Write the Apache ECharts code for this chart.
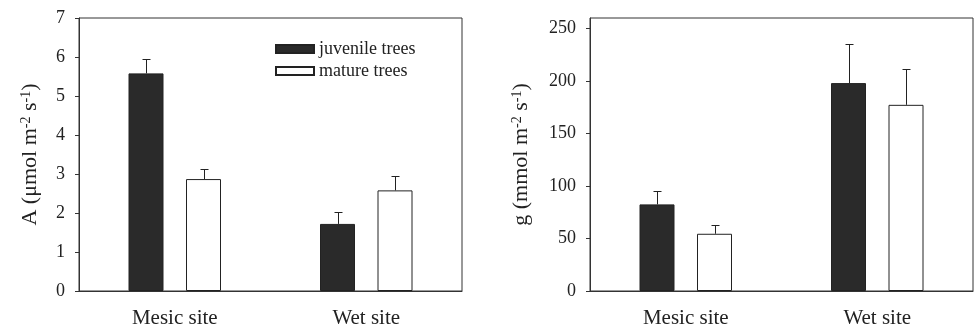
<!DOCTYPE html>
<html>
<head>
<meta charset="utf-8">
<script src="https://cdn.jsdelivr.net/npm/echarts@6/dist/echarts.min.js"></script>
<style>
html, body { margin: 0; padding: 0; background: #fff; }
#container { width: 975px; height: 329px; }
</style>
</head>
<body>
<div id="container"></div>
<script>
'use strict';
var sites = ['Mesic site', 'Wet site'];
var groupNames = ['juvenile trees', 'mature trees'];

// A (photosynthesis)
var aJuvenile = [5.58, 1.72];
var aJuvenileErr = [0.37, 0.31];
var aMature = [2.87, 2.58];
var aMatureErr = [0.25, 0.36];
var aTicks = [0, 1, 2, 3, 4, 5, 6, 7];

// g (conductance)
var gJuvenile = [82.5, 198];
var gJuvenileErr = [13.2, 37.2];
var gMature = [54.5, 177.3];
var gMatureErr = [8.1, 33.7];
var gTicks = [0, 50, 100, 150, 200, 250];

var FONT = 'Liberation Serif';
var INK = '#222';
var LINE = '#333';
var barW = 35;
var barGapPx = 22.5;
var errOffset = (barW + barGapPx) / 2;
var capHalf = 4;

var dom = document.getElementById('container');
var myChart = echarts.init(dom);

function errorSeries(idx, vals, errs, offset) {
    return {
        type: 'custom',
        xAxisIndex: idx,
        yAxisIndex: idx,
        silent: true,
        z: 5,
        data: vals.map(function (v, i) { return [i, v, errs[i]]; }),
        renderItem: function (params, api) {
            var c = api.value(0);
            var v = api.value(1);
            var base = api.coord([c, v]);
            var top = api.coord([c, v + api.value(2)]);
            var x = Math.round(base[0] + offset) + 0.5;
            var yt = Math.round(top[1]) + 0.5;
            var st = { stroke: INK, lineWidth: 1 };
            return {
                type: 'group',
                children: [
                    { type: 'line', shape: { x1: x, y1: base[1], x2: x, y2: yt }, style: st },
                    { type: 'line', shape: { x1: x - capHalf, y1: yt, x2: x + capHalf, y2: yt }, style: st }
                ]
            };
        }
    };
}

function barSeries(idx, name, vals, dark) {
    return {
        type: 'bar',
        name: name,
        xAxisIndex: idx,
        yAxisIndex: idx,
        barWidth: barW,
        barGap: (barGapPx / barW * 100) + '%',
        data: vals,
        itemStyle: dark
            ? { color: '#2a2a2a', borderColor: '#222', borderWidth: 1 }
            : { color: '#fff', borderColor: '#222', borderWidth: 1 }
    };
}

function xAxis(idx) {
    return {
        type: 'category',
        gridIndex: idx,
        data: sites,
        axisLine: { lineStyle: { color: LINE, width: 1 } },
        axisTick: { alignWithLabel: true, length: 4, lineStyle: { color: LINE } },
        axisLabel: { fontFamily: FONT, fontSize: 21, color: INK, margin: 17 }
    };
}

function yAxis(idx, ticks, max, rich, name, gap) {
    return {
        type: 'value',
        gridIndex: idx,
        min: 0,
        max: max,
        interval: ticks[1] - ticks[0],
        splitLine: { show: false },
        axisLine: { show: true, lineStyle: { color: LINE, width: 1 } },
        axisTick: { show: true, length: 4, customValues: ticks, lineStyle: { color: LINE } },
        axisLabel: { fontFamily: FONT, fontSize: 18, color: INK, margin: 14, customValues: ticks },
        name: name,
        nameLocation: 'middle',
        nameRotate: 90,
        nameGap: gap,
        nameTextStyle: { rich: rich }
    };
}

var titleRich = {
    t: { fontFamily: FONT, fontSize: 22, color: INK },
    s: { fontFamily: FONT, fontSize: 14, color: INK, verticalAlign: 'top' }
};

var option = {
    backgroundColor: '#fff',
    animation: false,
    legend: {
        orient: 'vertical',
        left: 275,
        top: 40,
        padding: 0,
        icon: 'rect',
        itemWidth: 38,
        itemHeight: 8,
        itemGap: 4,
        data: groupNames,
        textStyle: { fontFamily: FONT, fontSize: 18, color: INK }
    },
    grid: [
        { left: 79, top: 18, width: 383, height: 275, show: true, borderColor: LINE, borderWidth: 1, backgroundColor: 'transparent' },
        { left: 590, top: 18, width: 383, height: 275, show: true, borderColor: LINE, borderWidth: 1, backgroundColor: 'transparent' }
    ],
    xAxis: [xAxis(0), xAxis(1)],
    yAxis: [
        yAxis(0, aTicks, 7, titleRich, '{t|A (μmol m}{s|-2}{t| s}{s|-1}{t|)}', 38),
        yAxis(1, gTicks, 260, titleRich, '{t|g (mmol m}{s|-2}{t| s}{s|-1}{t|)}', 58)
    ],
    series: [
        barSeries(0, groupNames[0], aJuvenile, true),
        barSeries(0, groupNames[1], aMature, false),
        errorSeries(0, aJuvenile, aJuvenileErr, -errOffset),
        errorSeries(0, aMature, aMatureErr, errOffset),
        barSeries(1, groupNames[0], gJuvenile, true),
        barSeries(1, groupNames[1], gMature, false),
        errorSeries(1, gJuvenile, gJuvenileErr, -errOffset),
        errorSeries(1, gMature, gMatureErr, errOffset)
    ]
};

myChart.setOption(option);
</script>
</body>
</html>
